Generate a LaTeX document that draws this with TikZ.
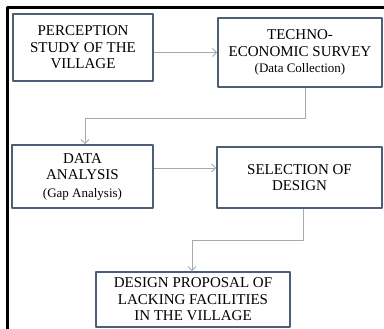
\documentclass[tikz,border=0pt]{standalone}
\usepackage{fontspec}
\setmainfont{Liberation Serif}
\usetikzlibrary{arrows.meta}
\definecolor{boxc}{HTML}{4E5E76}
\definecolor{arrc}{HTML}{A3AAB2}
\begin{document}
\begin{tikzpicture}[x=1pt,y=-1pt,line join=round,
	box/.style={draw=boxc,line width=1.8pt,fill=white,align=center,inner sep=0pt,
		font=\fontsize{15}{16.5}\selectfont},
	arr/.style={draw=arrc,line width=.9pt,-{Straight Barb[length=4pt,width=8pt]}}]
	\newcommand\sub[1]{{\fontsize{13}{15}\selectfont #1}}
	\useasboundingbox (0,0) rectangle (384,329);
	% outer frame
	\draw[line width=2.5pt] (7.5,329) -- (7.5,7.5) -- (384,7.5);
	% boxes
	\node[box,minimum width=140,minimum height=67] (per) at (83,47.5)
		{PERCEPTION\\STUDY OF THE\\VILLAGE};
	\node[box,minimum width=164,minimum height=69] (sur) at (300,52.5)
		{TECHNO-\\ECONOMIC SURVEY\\\sub{(Data Collection)}};
	\node[box,minimum width=141,minimum height=63] (ana) at (82.5,176.5)
		{DATA\\ANALYSIS\\[1pt]\sub{(Gap Analysis)}};
	\node[box,minimum width=165,minimum height=61] (sel) at (299.5,177.5)
		{SELECTION OF\\DESIGN};
	\node[box,minimum width=194,minimum height=55] (pro) at (193,299.5)
		{DESIGN PROPOSAL OF\\LACKING FACILITIES\\IN THE VILLAGE};
	% connectors
	\draw[arr] (per.east |- sur.west) -- (sur.west);
	\draw[arr] ([xshift=5]sur.south) -- ++(0,31) -| ([xshift=2.5]ana.north);
	\draw[arr] (ana.east |- 0,168) -- (sel.west |- 0,168);
	\draw[arr] ([xshift=3.5]sel.south) -- ++(0,32) -| ([xshift=-1]pro.north);
\end{tikzpicture}
\end{document}
